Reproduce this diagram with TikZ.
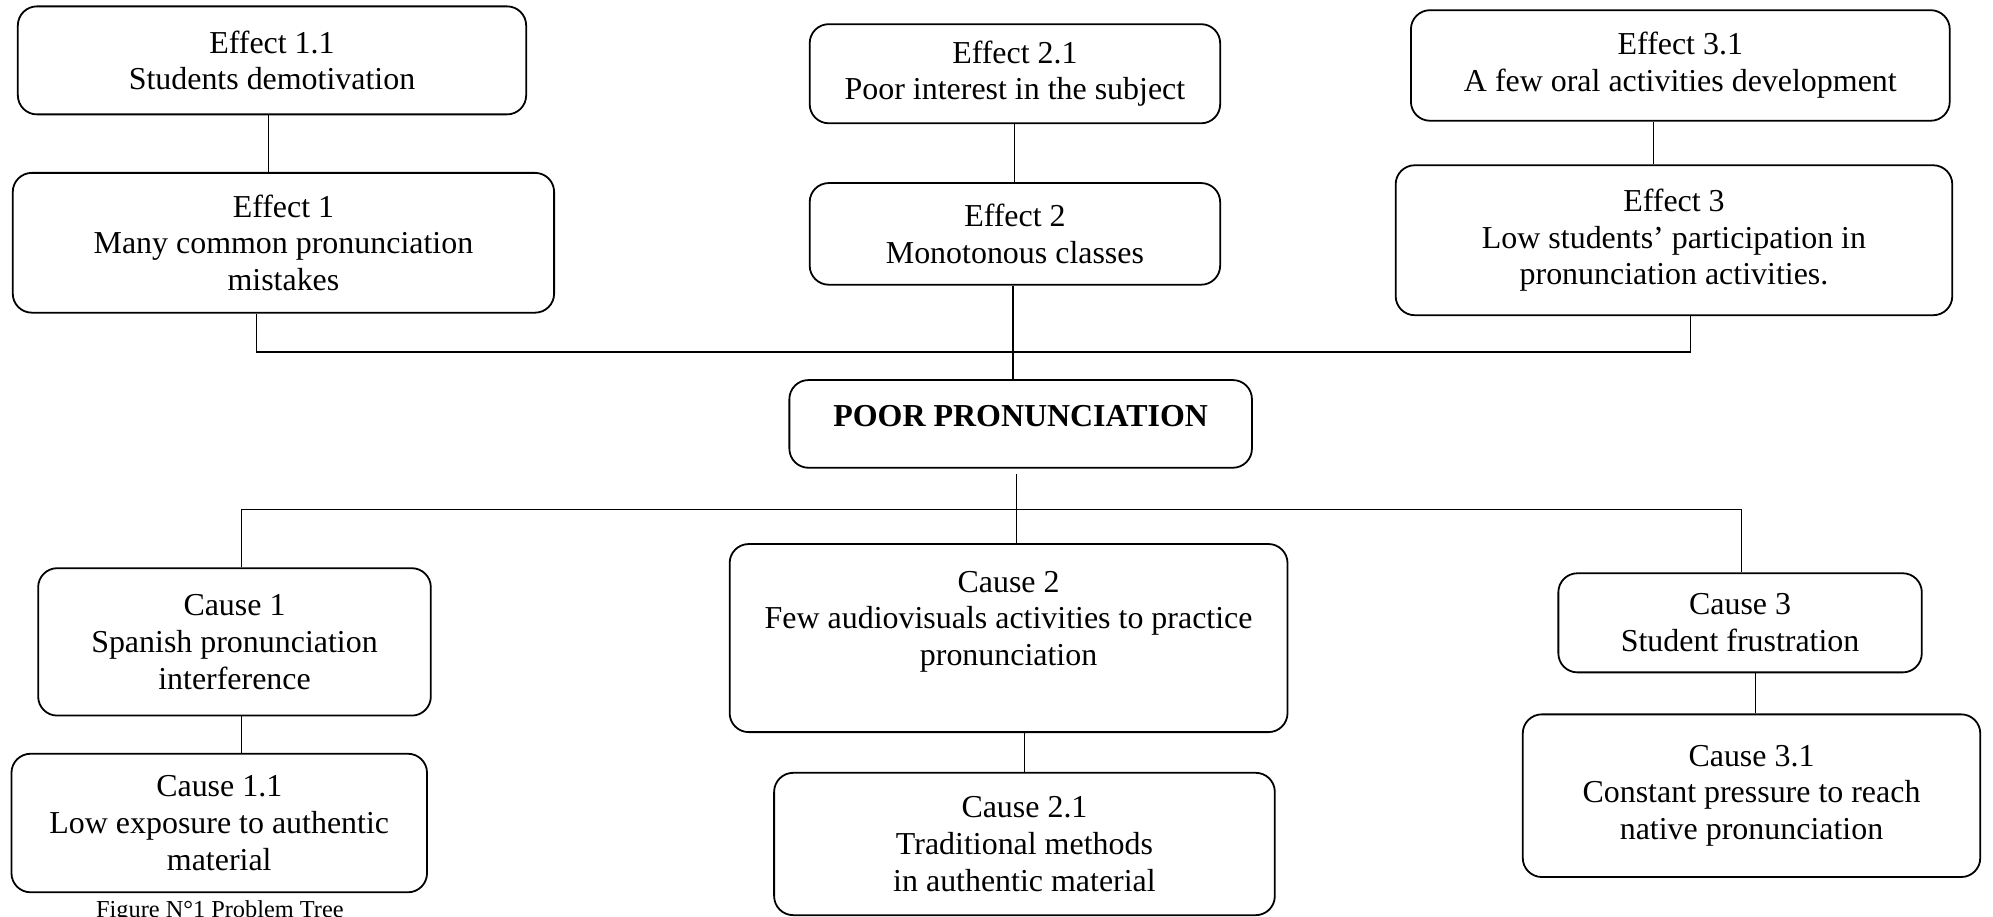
\documentclass[tikz,border=0pt]{standalone}
\usepackage{fontspec}
\setmainfont{Liberation Serif}
\begin{document}
\begin{tikzpicture}[x=0.02cm,y=-0.02cm,
  box/.style={draw,line width=0.8pt,rounded corners=0.3cm,inner sep=0pt,align=center,
    font=\fontsize{14.3}{16.5}\selectfont},
  link/.style={line width=0.55pt}]
\useasboundingbox (0,0) rectangle (1568,721);
% effects
\node[box,minimum width=8.0cm,minimum height=1.7cm] (E11) at (214,47.5) {Effect 1.1\\Students demotivation};
\node[box,minimum width=8.52cm,minimum height=2.2cm] (E1) at (223,191) {Effect 1\\Many common pronunciation\\mistakes};
\node[box,minimum width=6.46cm,minimum height=1.56cm] (E21) at (798.5,58) {Effect 2.1\\Poor interest in the subject};
\node[box,minimum width=6.46cm,minimum height=1.6cm] (E2) at (798.5,184) {Effect 2\\Monotonous classes};
\node[box,minimum width=8.48cm,minimum height=1.74cm] (E31) at (1322,51.5) {Effect 3.1\\A few oral activities development};
\node[box,minimum width=8.76cm,minimum height=2.36cm] (E3) at (1317,189) {Effect 3\\Low students’ participation in\\pronunciation activities.};
% core problem
\node[box,minimum width=7.28cm,minimum height=1.38cm] (PP) at (803,333.5) {\raisebox{0.13cm}[\height][\depth]{\textbf{POOR PRONUNCIATION}}};
% causes
\node[box,minimum width=6.18cm,minimum height=2.32cm] (C1) at (184.5,505) {Cause 1\\Spanish pronunciation\\interference};
\node[box,minimum width=6.54cm,minimum height=2.18cm] (C11) at (172.5,647.5) {Cause 1.1\\Low exposure to authentic\\material};
\node[box,minimum width=8.78cm,minimum height=2.96cm] (C2) at (793.5,502) {\raisebox{0.26cm}[\height][\depth]{\begin{tabular}{@{}c@{}}Cause 2\\Few audiovisuals activities to practice\\pronunciation\end{tabular}}};
\node[box,minimum width=7.88cm,minimum height=2.24cm] (C21) at (806,664) {Cause 2.1\\Traditional methods\\in authentic material};
\node[box,minimum width=5.72cm,minimum height=1.56cm] (C3) at (1369,490) {Cause 3\\Student frustration};
\node[box,minimum width=7.2cm,minimum height=2.56cm] (C31) at (1378,626) {Cause 3.1\\Constant pressure to reach\\native pronunciation};
% caption
\node[anchor=base,inner sep=0pt,font=\fontsize{10.9}{12}\selectfont] (cap) at (173,722) {Figure N°1 Problem Tree};
% connector guide coordinates
\coordinate (v1) at (211,0);
\coordinate (v2) at (798,0);
\coordinate (v3) at (1301,0);
\coordinate (tb1) at (202,277);
\coordinate (tb2) at (797,277);
\coordinate (tb3) at (1330,277);
\coordinate (bb1) at (190,401);
\coordinate (bb2) at (800,401);
\coordinate (bb3) at (1370,401);
\coordinate (w1) at (190,0);
\coordinate (w2) at (806,0);
\coordinate (w3) at (1381,0);
% connectors: effects
\draw[link] (E11.south -| v1) -- (E1.north -| v1);
\draw[link] (E21.south -| v2) -- (E2.north -| v2);
\draw[link] (E31.south -| v3) -- (E3.north -| v3);
\draw[link] (E1.south -| tb1) -- (tb1) -- (tb3) -- (E3.south -| tb3);
\draw[link] (E2.south -| tb2) -- (PP.north -| tb2);
% connectors: causes
\draw[link,shorten <=4*0.02cm] (PP.south -| bb2) -- (C2.north -| bb2);
\draw[link] (C1.north -| bb1) -- (bb1) -- (bb3) -- (C3.north -| bb3);
\draw[link] (C1.south -| w1) -- (C11.north -| w1);
\draw[link] (C2.south -| w2) -- (C21.north -| w2);
\draw[link] (C3.south -| w3) -- (C31.north -| w3);
\end{tikzpicture}
\end{document}
